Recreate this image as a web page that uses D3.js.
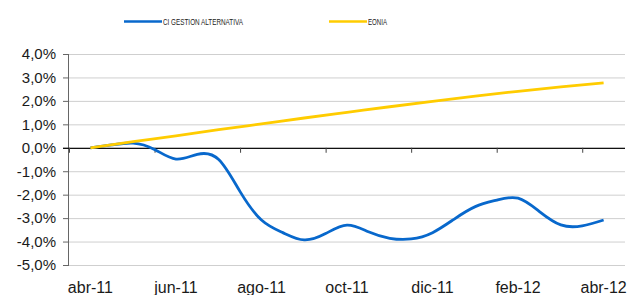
<!DOCTYPE html>
<html>
<head>
<meta charset="utf-8">
<script src="https://cdn.jsdelivr.net/npm/d3@7"></script>
<style>
  html, body { margin: 0; padding: 0; background: #fff; }
  svg { display: block; font-family: "Liberation Sans", Arial, sans-serif; }
</style>
</head>
<body>
<div id="chart"></div>
<script>
// Month categories (axis shows every second one)
const months = ['abr-11', 'may-11', 'jun-11', 'jul-11', 'ago-11', 'sep-11', 'oct-11',
                'nov-11', 'dic-11', 'ene-12', 'feb-12', 'mar-12', 'abr-12'];

// EONIA, cumulative %, one value per month
const eoniaValues = [0.00, 0.26, 0.51, 0.77, 1.02, 1.27, 1.51, 1.75, 1.98, 2.20, 2.41, 2.60, 2.77];

// CI Gestion Alternativa, cumulative %, read at half-month offsets
const fundSteps  = [0, 0.5, 1, 1.5, 2, 2.5, 3, 3.5, 4, 4.5, 5, 5.5, 6, 6.5, 7, 7.5, 8,
                    8.5, 9, 9.5, 10, 10.5, 11, 11.5, 12];
const fundValues = [0.00, 0.12, 0.20, -0.07, -0.48, -0.28, -0.50, -1.87, -3.08, -3.62,
                    -3.93, -3.66, -3.30, -3.58, -3.86, -3.89, -3.62, -3.05, -2.51, -2.23, -2.15,
                    -2.72, -3.29, -3.33, -3.08];

const yTicks = [-5, -4, -3, -2, -1, 0, 1, 2, 3, 4];

const W = 640, H = 295;
const margin = { top: 54, right: 15, bottom: 30, left: 69 };
const w = W - margin.left - margin.right;
const h = H - margin.top - margin.bottom;

const blue = '#0868cc';
const yellow = '#ffcc00';

const es = d3.formatLocale({ decimal: ',', thousands: '.', grouping: [3], currency: ['', '€'], minus: '-' });
const pct = es.format('.1f');

const svg = d3.select('#chart').append('svg')
  .attr('width', W).attr('height', H);

const inner = svg.append('g')
  .attr('transform', `translate(${margin.left},${margin.top})`);

const xScale = d3.scaleLinear().domain([-0.5, months.length - 0.5]).range([0, w]);
const yScale = d3.scaleLinear().domain([-5, 4]).range([h, 0]);

// Grid lines
inner.append('g')
  .call(d3.axisLeft(yScale).tickValues(yTicks).tickSize(-w).tickFormat(''))
  .call(g => g.select('.domain').remove())
  .call(g => g.selectAll('line').attr('stroke', '#cfcfcf').attr('stroke-width', 1));

// Left axis
inner.append('g')
  .call(d3.axisLeft(yScale).tickValues(yTicks).tickSize(6).tickPadding(7).tickFormat(d => pct(d) + '%'))
  .call(g => g.select('.domain').attr('stroke', '#666').attr('d', `M-0.5,${h}V0`))
  .call(g => g.selectAll('line').attr('stroke', '#666'))
  .call(g => g.selectAll('text')
    .style('font-family', '"Liberation Sans", Arial, sans-serif')
    .style('font-size', '15px').attr('fill', '#1a1a1a'));

// Zero axis with category boundary ticks
const boundaries = d3.range(0, months.length, 2).map(i => i - 0.5);
inner.append('g')
  .attr('transform', `translate(0,${yScale(0)})`)
  .call(d3.axisBottom(xScale).tickValues(boundaries).tickSize(5).tickFormat(''))
  .call(g => g.select('.domain').attr('stroke', '#111').attr('stroke-width', 1.2).attr('d', `M-6,0.5H${w}`))
  .call(g => g.selectAll('line').attr('stroke', '#444'));

// Category labels
inner.append('g')
  .selectAll('text')
  .data(months.filter((m, i) => i % 2 === 0))
  .join('text')
  .attr('x', (d, i) => xScale(i * 2))
  .attr('y', h + 28)
  .attr('text-anchor', 'middle')
  .style('font-size', '16px')
  .attr('fill', '#1a1a1a')
  .text(d => d);

// Series lines
const fundLine = d3.line()
  .x((d, i) => xScale(fundSteps[i]))
  .y(d => yScale(d))
  .curve(d3.curveNatural);

const eoniaLine = d3.line()
  .x((d, i) => xScale(i))
  .y(d => yScale(d))
  .curve(d3.curveNatural);

inner.append('path')
  .datum(fundValues)
  .attr('d', fundLine)
  .attr('fill', 'none')
  .attr('stroke', blue)
  .attr('stroke-width', 2.8)
  .attr('stroke-linejoin', 'round');

inner.append('path')
  .datum(eoniaValues)
  .attr('d', eoniaLine)
  .attr('fill', 'none')
  .attr('stroke', yellow)
  .attr('stroke-width', 2.8)
  .attr('stroke-linejoin', 'round');

// Legend
const legendItems = [
  { label: 'CI GESTION ALTERNATIVA', color: blue, x: 124, len: 80 },
  { label: 'EONIA', color: yellow, x: 329, len: 19 }
];
const legend = svg.append('g');
legend.selectAll('line')
  .data(legendItems)
  .join('line')
  .attr('x1', d => d.x).attr('x2', d => d.x + 38)
  .attr('y1', 21.5).attr('y2', 21.5)
  .attr('stroke', d => d.color)
  .attr('stroke-width', 2.6);
legend.selectAll('text')
  .data(legendItems)
  .join('text')
  .attr('x', d => d.x + 39)
  .attr('y', 25.2)
  .attr('textLength', d => d.len)
  .attr('lengthAdjust', 'spacingAndGlyphs')
  .style('font-size', '8.3px')
  .attr('fill', '#222')
  .text(d => d.label);
</script>
</body>
</html>
